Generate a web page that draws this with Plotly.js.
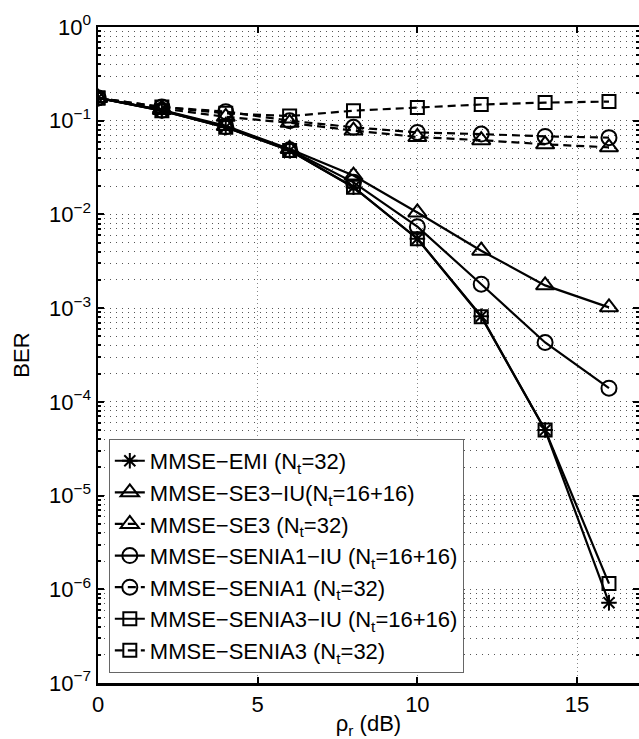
<!DOCTYPE html>
<html>
<head>
<meta charset="utf-8">
<script src="https://cdn.plot.ly/plotly-3.0.1.min.js"></script>
<style>
  html, body { margin: 0; padding: 0; background: #fff; }
  #chart { width: 639px; height: 739px; }
</style>
</head>
<body>
<div id="chart"></div>
<script>
// Received SNR in dB
const snrDb = [0, 2, 4, 6, 8, 10, 12, 14, 16];

// Bit error rate of each detector
const berEmi        = [0.175, 0.128, 0.085, 0.048, 0.0195, 0.0055, 0.00082, 5.0e-5, 7.2e-7];
const berSe3Iu      = [0.175, 0.130, 0.088, 0.050, 0.026, 0.0105, 0.0041, 0.00175, 0.00102];
const berSe3        = [0.175, 0.135, 0.110, 0.095, 0.0785, 0.067, 0.062, 0.056, 0.052];
const berSenia1Iu   = [0.175, 0.129, 0.086, 0.049, 0.022, 0.0074, 0.0018, 0.00043, 0.00014];
const berSenia1     = [0.175, 0.140, 0.125, 0.100, 0.085, 0.075, 0.072, 0.068, 0.066];
const berSenia3Iu   = [0.175, 0.128, 0.085, 0.048, 0.0195, 0.0055, 0.00081, 5.0e-5, 1.15e-6];
const berSenia3     = [0.175, 0.140, 0.120, 0.112, 0.128, 0.138, 0.149, 0.156, 0.160];

// Legend labels
const names = [
  'MMSE\u2212EMI (N<sub>t</sub>=32)',
  'MMSE\u2212SE3\u2212IU(N<sub>t</sub>=16+16)',
  'MMSE\u2212SE3 (N<sub>t</sub>=32)',
  'MMSE\u2212SENIA1\u2212IU (N<sub>t</sub>=16+16)',
  'MMSE\u2212SENIA1 (N<sub>t</sub>=32)',
  'MMSE\u2212SENIA3\u2212IU (N<sub>t</sub>=16+16)',
  'MMSE\u2212SENIA3 (N<sub>t</sub>=32)'
];

// Axis tick labels
const xTicks = [0, 5, 10, 15];
const yTickVals = [1e-7, 1e-6, 1e-5, 1e-4, 1e-3, 1e-2, 1e-1, 1];
const yTickText = ['10<sup>\u22127</sup>', '10<sup>\u22126</sup>', '10<sup>\u22125</sup>',
                   '10<sup>\u22124</sup>', '10<sup>\u22123</sup>', '10<sup>\u22122</sup>',
                   '10<sup>\u22121</sup>', '10<sup>0</sup>'];

const DASH = '8px,5px';

function series(y, name, symbol, size, dashed, group) {
  return {
    x: snrDb, y: y, name: name, type: 'scatter', mode: 'lines+markers',
    legendgroup: group,
    line: { color: '#000', width: 2.2, dash: dashed ? DASH : 'solid' },
    marker: { symbol: symbol, size: size, color: '#000', line: { color: '#000', width: 2 } }
  };
}

const traces = [
  series(berEmi,      names[0], 'asterisk-open',      13, false, 'g0'),
  series(berSe3Iu,    names[1], 'triangle-up-open',   16, false, 'g1'),
  series(berSe3,      names[2], 'triangle-up-open',   16, true,  'g2'),
  series(berSenia1Iu, names[3], 'circle-open',        15, false, 'g3'),
  series(berSenia1,   names[4], 'circle-open',        15, true,  'g4'),
  series(berSenia3Iu, names[5], 'square-open',        13, false, 'g5'),
  series(berSenia3,   names[6], 'square-open',        13, true,  'g6')
];

// Minor gridline positions: 2..9 within each decade
const minorVals = [];
for (let e = -7; e < 0; e++) {
  for (let m = 2; m <= 9; m++) minorVals.push(m * Math.pow(10, e));
}

const FONT = 'Liberation Sans, Arial, Helvetica, sans-serif';

const layout = {
  width: 639, height: 739,
  margin: { l: 98, r: 0, t: 27, b: 56 },
  paper_bgcolor: '#fff', plot_bgcolor: '#fff',
  font: { family: FONT, size: 20, color: '#000' },
  showlegend: true,
  legend: {
    x: 0.02, y: 0.372, xanchor: 'left', yanchor: 'top',
    bgcolor: '#fff', bordercolor: '#666', borderwidth: 1,
    font: { family: FONT, size: 22, color: '#000' },
    tracegroupgap: 0
  },
  xaxis: {
    range: [0, 16.94],
    tickvals: xTicks, ticktext: xTicks.map(String),
    ticks: 'inside', ticklen: 6, tickwidth: 2, tickcolor: '#000',
    showline: true, linecolor: '#000', linewidth: 2.5, mirror: 'allticks',
    showgrid: true, gridcolor: '#888', gridwidth: 1, griddash: '1px,3px',
    zeroline: false,
    tickfont: { family: FONT, size: 22 },
    title: { text: '\u03c1<sub>r</sub> (dB)', font: { family: FONT, size: 22 }, standoff: 9 }
  },
  yaxis: {
    type: 'log', range: [-7, 0],
    tickvals: yTickVals, ticktext: yTickText,
    ticks: 'inside', ticklen: 6, tickwidth: 2, tickcolor: '#000',
    showline: true, linecolor: '#000', linewidth: 2.5, mirror: 'allticks',
    showgrid: true, gridcolor: '#555', gridwidth: 1, griddash: '1px,5px',
    zeroline: false,
    tickfont: { family: FONT, size: 22 },
    title: { text: 'BER', font: { family: FONT, size: 22 }, standoff: 14 },
    minor: {
      tickvals: minorVals,
      ticks: 'inside', ticklen: 3, tickwidth: 2, tickcolor: '#000',
      showgrid: true, gridcolor: '#555', gridwidth: 1, griddash: '1px,5px'
    }
  }
};

Plotly.newPlot('chart', traces, layout, { displayModeBar: false, staticPlot: true });
</script>
</body>
</html>
